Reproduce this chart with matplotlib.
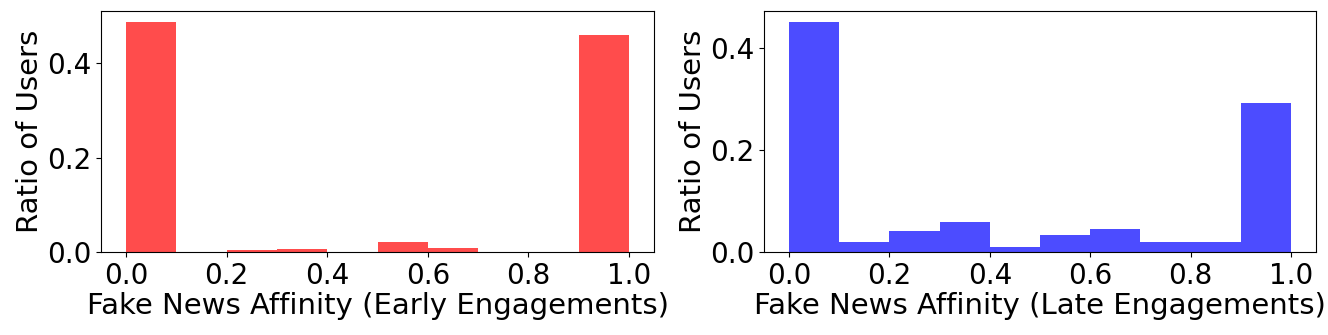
import matplotlib
matplotlib.use("Agg")
import matplotlib.pyplot as plt
import numpy as np

bin_edges = [0.0, 0.1, 0.2, 0.3, 0.4, 0.5, 0.6, 0.7, 0.8, 0.9, 1.0]
early_ratio = [0.487, 0.001, 0.004, 0.007, 0.0, 0.022, 0.008, 0.0, 0.0, 0.461]
late_ratio = [0.451, 0.0196, 0.041, 0.059, 0.0105, 0.033, 0.046, 0.0196, 0.0196, 0.292]
x_ticks = [0.0, 0.2, 0.4, 0.6, 0.8, 1.0]
y_ticks = [0.0, 0.2, 0.4]
early_label = "Fake News Affinity (Early Engagements)"
late_label = "Fake News Affinity (Late Engagements)"
y_label = "Ratio of Users"

fig = plt.figure(figsize=(13.28, 3.35), dpi=100)
ax1 = fig.add_axes([0.0761, 0.2478, 0.4164, 0.7194])
ax2 = fig.add_axes([0.5753, 0.2478, 0.4157, 0.7194])

TICK_FS = 20
LABEL_FS = 21
for ax, vals, color, xl in [(ax1, early_ratio, "red", early_label),
                             (ax2, late_ratio, "blue", late_label)]:
    edges = np.array(bin_edges)
    ax.hist(edges[:-1], bins=edges, weights=vals, color=color, alpha=0.7)
    ax.set_xticks(x_ticks)
    ax.set_yticks(y_ticks)
    ax.tick_params(labelsize=TICK_FS)
    ax.set_xlabel(xl, fontsize=LABEL_FS, labelpad=2)
    ax.set_ylabel(y_label, fontsize=LABEL_FS, labelpad=2)

fig.savefig("out.png", dpi=100)
